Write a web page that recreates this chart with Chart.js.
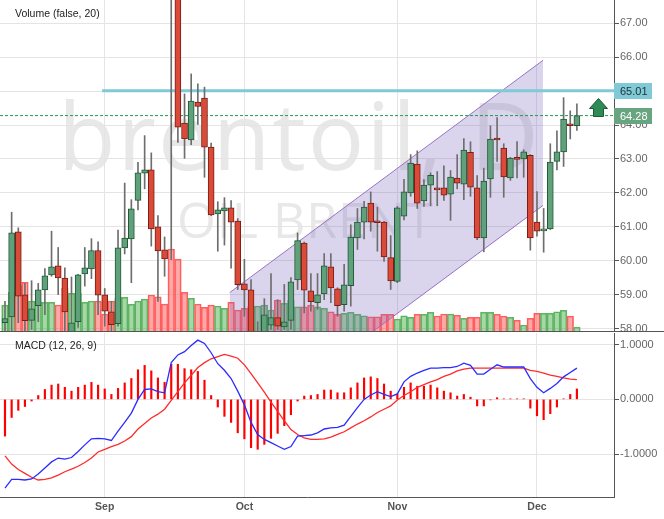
<!DOCTYPE html>
<html>
<head>
<meta charset="utf-8">
<script src="https://cdn.jsdelivr.net/npm/chart.js@4.4.0/dist/chart.umd.min.js"></script>
<style>
    html, body { margin: 0; padding: 0; background: #fff; }
    #wrap { width: 664px; height: 519px; }
    canvas { display: block; }
</style>
</head>
<body>
<div id="wrap">
    <canvas id="price-chart" width="664" height="332"></canvas>
    <canvas id="macd-chart" width="664" height="187"></canvas>
</div>
<script>
// --- DATA ---
// daily candles, 12 Aug .. 10 Dec (index = trading day)
const monthLabels = ['Sep', 'Oct', 'Nov', 'Dec'];
const monthStart = [15, 36, 59, 80];

const opens = [
    58.17, 58.34, 60.85, 58.99, 58.24, 58.67, 59.14, 59.58, 59.85, 59.49,
    57.88, 58.20, 59.61, 59.76, 60.30, 58.99, 58.49, 58.14, 60.38, 60.64,
    61.78, 62.58, 62.68, 61.00, 60.32, 71.00, 68.90, 64.06, 63.56, 64.68,
    64.80, 63.35, 61.38, 61.47, 61.56, 61.17, 59.32, 59.14, 57.70, 57.85,
    58.10, 58.32, 58.05, 58.24, 59.43, 60.52, 59.11, 58.76, 59.02, 59.82,
    59.17, 58.70, 59.26, 60.67, 61.14, 61.70, 61.16, 61.14, 60.09, 59.39,
    61.31, 62.00, 62.85, 61.76, 62.23, 62.12, 62.15, 61.96, 62.44, 62.26,
    63.20, 62.15, 60.67, 62.41, 63.59, 63.32, 62.44, 63.02, 63.00, 63.11,
    61.14, 60.88, 60.94, 62.93, 63.21, 64.00, 63.98
];
const highs = [
    58.80, 61.43, 60.97, 59.33, 59.41, 59.33, 59.77, 60.87, 60.39, 59.79,
    59.52, 59.60, 60.39, 60.65, 60.56, 59.18, 58.80, 60.90, 62.29, 61.80,
    62.90, 63.69, 63.18, 61.33, 60.70, 71.95, 69.30, 64.92, 65.51, 65.22,
    65.12, 63.47, 61.74, 61.86, 61.77, 61.24, 60.04, 59.44, 58.20, 58.88,
    59.62, 58.85, 59.30, 59.50, 60.82, 60.55, 59.62, 59.62, 60.21, 60.21,
    59.20, 59.89, 61.06, 61.54, 61.75, 62.03, 61.58, 61.16, 60.74, 61.60,
    62.40, 63.13, 63.24, 62.39, 62.59, 62.63, 62.80, 62.66, 63.13, 63.60,
    63.51, 62.51, 62.73, 63.98, 64.22, 63.45, 63.05, 63.51, 63.27, 63.13,
    62.04, 61.54, 63.45, 63.83, 64.81, 64.42, 64.63
];
const lows = [
    57.80, 57.80, 58.17, 57.80, 57.97, 58.20, 58.41, 59.54, 59.00, 57.80,
    57.80, 58.03, 59.25, 59.47, 58.41, 58.07, 57.80, 58.07, 60.20, 59.35,
    61.50, 62.12, 60.43, 58.80, 59.54, 60.03, 63.49, 63.02, 63.42, 64.02,
    62.46, 61.33, 60.28, 60.46, 59.78, 59.15, 58.36, 57.50, 57.30, 57.60,
    57.97, 57.97, 57.97, 57.97, 59.15, 58.46, 58.51, 58.56, 58.85, 58.76,
    58.36, 58.51, 58.66, 60.33, 60.64, 60.87, 60.28, 59.98, 59.15, 59.35,
    61.20, 61.90, 61.54, 61.60, 61.62, 61.62, 61.78, 61.19, 62.12, 61.80,
    61.90, 60.62, 60.26, 61.87, 62.93, 61.87, 62.37, 62.44, 62.46, 60.31,
    60.72, 60.25, 60.92, 62.68, 62.78, 63.59, 63.84
];
const closes = [
    58.29, 60.82, 58.95, 58.23, 58.58, 59.14, 59.55, 59.82, 59.49, 58.49,
    58.17, 59.58, 59.79, 60.30, 58.98, 58.51, 58.11, 60.38, 60.67, 61.53,
    62.59, 62.68, 60.94, 60.29, 60.05, 69.02, 63.94, 63.59, 64.71, 64.55,
    63.35, 61.35, 61.50, 61.56, 61.14, 59.29, 59.14, 57.70, 57.85, 58.40,
    58.32, 58.07, 58.20, 59.38, 60.59, 59.13, 58.79, 58.99, 59.85, 59.20,
    58.67, 59.29, 60.70, 61.14, 61.58, 61.14, 61.12, 60.11, 59.40, 61.56,
    62.03, 62.88, 61.70, 62.23, 62.52, 62.09, 61.93, 62.47, 62.29, 63.26,
    62.17, 60.67, 62.35, 63.59, 63.56, 62.47, 63.03, 62.99, 63.21, 60.67,
    60.87, 60.91, 62.91, 63.21, 64.18, 63.98, 64.28
];
const volumes = [
    104, 155, 181, 195, 120, 117, 115, 115, 104, 172,
    151, 151, 115, 120, 120, 68, 120, 131, 135, 107,
    120, 128, 144, 137, 108, 328, 288, 155, 131, 108,
    95, 104, 100, 91, 115, 84, 91, 100, 100, 104,
    84, 124, 111, 124, 97, 97, 104, 97, 91, 77,
    68, 71, 75, 67, 61, 57, 57, 67, 67, 48,
    61, 55, 67, 67, 75, 60, 68, 68, 63, 51,
    55, 55, 75, 75, 67, 60, 55, 43, 24, 51,
    71, 71, 71, 77, 83, 60, 16
];

const macdLine = [
    -1.62, -1.46, -1.46, -1.47, -1.45, -1.36, -1.25, -1.14, -1.07, -1.09,
    -1.06, -0.95, -0.83, -0.72, -0.71, -0.72, -0.75, -0.58, -0.42, -0.25,
    0.00, 0.18, 0.19, 0.14, 0.12, 0.67, 0.81, 0.87, 0.98, 1.08,
    1.02, 0.85, 0.65, 0.53, 0.38, 0.15, -0.10, -0.42, -0.64, -0.73,
    -0.79, -0.85, -0.91, -0.86, -0.67, -0.66, -0.65, -0.61, -0.54, -0.52,
    -0.51, -0.47, -0.31, -0.15, 0.00, 0.08, 0.14, 0.09, 0.05, 0.10,
    0.32, 0.42, 0.48, 0.53, 0.57, 0.57, 0.58, 0.58, 0.60, 0.66,
    0.62, 0.46, 0.46, 0.55, 0.63, 0.59, 0.59, 0.59, 0.59, 0.38,
    0.22, 0.12, 0.20, 0.29, 0.41, 0.49, 0.57
];
const signalLine = [
    -1.03, -1.18, -1.28, -1.35, -1.42, -1.47, -1.46, -1.43, -1.38, -1.32,
    -1.27, -1.22, -1.15, -1.07, -0.96, -0.91, -0.86, -0.82, -0.76, -0.68,
    -0.54, -0.44, -0.34, -0.27, -0.18, -0.02, 0.14, 0.30, 0.44, 0.58,
    0.67, 0.74, 0.78, 0.82, 0.79, 0.75, 0.63, 0.47, 0.30, 0.13,
    -0.05, -0.22, -0.39, -0.55, -0.64, -0.70, -0.73, -0.73, -0.72, -0.69,
    -0.64, -0.59, -0.52, -0.45, -0.39, -0.32, -0.24, -0.18, -0.12, -0.01,
    0.07, 0.14, 0.22, 0.27, 0.32, 0.36, 0.42, 0.46, 0.52, 0.55,
    0.57, 0.57, 0.57, 0.57, 0.57, 0.57, 0.57, 0.57, 0.57, 0.53,
    0.51, 0.48, 0.44, 0.42, 0.39, 0.37, 0.36
];
const histogram = [
    -0.67, -0.33, -0.20, -0.13, -0.03, 0.07, 0.18, 0.26, 0.28, 0.22,
    0.15, 0.22, 0.26, 0.31, 0.26, 0.19, 0.09, 0.20, 0.30, 0.38,
    0.54, 0.62, 0.52, 0.39, 0.31, 0.64, 0.64, 0.56, 0.54, 0.51,
    0.35, 0.07, -0.14, -0.31, -0.42, -0.61, -0.72, -0.88, -0.91, -0.82,
    -0.71, -0.62, -0.48, -0.28, -0.03, 0.06, 0.07, 0.09, 0.17, 0.17,
    0.12, 0.12, 0.21, 0.30, 0.39, 0.41, 0.38, 0.28, 0.15, 0.10,
    0.22, 0.30, 0.24, 0.24, 0.26, 0.21, 0.15, 0.12, 0.06, 0.09,
    0.04, -0.12, -0.12, -0.01, 0.03, 0.01, 0.01, 0.01, 0.01, -0.16,
    -0.30, -0.37, -0.26, -0.14, 0.01, 0.09, 0.19
];

const priceTicks = [58, 59, 60, 61, 62, 63, 64, 65, 66, 67];
const macdTicks = [-1, 0, 1];

// drawn levels and channel (x = trading-day index)
const resistance = 65.01;
const resistanceFrom = 14.6;
const lastPrice = 64.28;
const channelUpper = [{ x: 33.8, y: 59.06 }, { x: 80.9, y: 65.91 }];
const channelLower = [{ x: 33.8, y: 54.78 }, { x: 80.9, y: 61.63 }];
const arrowAt = { x: 89.1, y: 64.81 };

// --- CONFIG ---
const X_MIN = -0.75, X_MAX = 91.58;
const PRICE_MIN = 57.926, PRICE_MAX = 67.69;
const MACD_MIN = -1.78, MACD_MAX = 1.21;
const VOL_MAX = 1324;
const AXIS_W = 50;
const TICK_FONT = { family: '"Liberation Sans", Arial, sans-serif', size: 11 };

const isUp = i => closes[i] >= opens[i];

const monthAxis = (showLabels, height) => ({
    type: 'linear',
    min: X_MIN,
    max: X_MAX,
    offset: false,
    grid: { color: '#e4e4e4', drawTicks: false, offset: false },
    border: { color: '#555' },
    ticks: {
        display: showLabels,
        color: '#555',
        padding: 4,
        font: { family: TICK_FONT.family, size: 10.5, weight: 'bold' },
        callback: v => monthLabels[monthStart.indexOf(v)] || ''
    },
    afterBuildTicks: s => { s.ticks = monthStart.map(v => ({ value: v })); },
    afterFit: s => { s.height = height; s.paddingLeft = 0; s.paddingRight = 0; }
});

const valueAxis = (min, max, ticks, digits) => ({
    position: 'right',
    min, max,
    grid: { color: '#e4e4e4', tickColor: '#555', tickLength: 5 },
    border: { color: '#555' },
    ticks: { color: '#666', padding: 1, font: TICK_FONT, callback: v => v.toFixed(digits) },
    afterBuildTicks: s => { s.ticks = ticks.map(v => ({ value: v })); },
    afterFit: s => { s.width = AXIS_W; s.paddingTop = 0; s.paddingBottom = 0; }
});

const baseOptions = {
    responsive: false,
    devicePixelRatio: 1,
    animation: false,
    events: [],
    plugins: { legend: { display: false }, tooltip: { enabled: false } }
};

// --- PLUGINS ---
function drawTag(ctx, left, y, text, bg, fg) {
    ctx.fillStyle = bg;
    ctx.fillRect(left, Math.round(y) - 8, 38, 16);
    ctx.fillStyle = fg;
    ctx.font = '11px "Liberation Sans", Arial, sans-serif';
    ctx.textBaseline = 'middle';
    ctx.textAlign = 'left';
    ctx.fillText(text, left + 6, Math.round(y) + 0.5);
}

const priceOverlay = {
    id: 'priceOverlay',
    beforeDraw(chart) {
        const { ctx } = chart;
        ctx.save();
        ctx.fillStyle = '#e8e8e8';
        ctx.textBaseline = 'alphabetic';
        ctx.letterSpacing = '2px';
        ctx.font = '94px "Open Sans", sans-serif';
        ctx.fillText('brentoil, D', 58, 170);
        ctx.letterSpacing = '1px';
        ctx.font = '50px "Open Sans", sans-serif';
        ctx.fillText('OIL BRENT', 177, 238);
        ctx.restore();
    },
    afterDraw(chart) {
        const { ctx, chartArea, scales } = chart;
        ctx.save();
        ctx.fillStyle = '#222';
        ctx.font = '10.5px "Liberation Sans", Arial, sans-serif';
        ctx.textBaseline = 'middle';
        ctx.fillText('Volume (false, 20)', 15, 14);

        drawTag(ctx, chartArea.right, scales.y.getPixelForValue(resistance), resistance.toFixed(2), '#80c9d6', '#1f3035');
        drawTag(ctx, chartArea.right, scales.y.getPixelForValue(lastPrice), lastPrice.toFixed(2), '#67a47f', '#ffffff');

        // up arrow
        const ax = Math.round(scales.x.getPixelForValue(arrowAt.x)) + 0.5;
        const ay = Math.round(scales.y.getPixelForValue(arrowAt.y)) + 0.5;
        ctx.beginPath();
        ctx.moveTo(ax, ay);
        ctx.lineTo(ax + 9, ay + 10);
        ctx.lineTo(ax + 5, ay + 10);
        ctx.lineTo(ax + 5, ay + 18);
        ctx.lineTo(ax - 5, ay + 18);
        ctx.lineTo(ax - 5, ay + 10);
        ctx.lineTo(ax - 9, ay + 10);
        ctx.closePath();
        ctx.fillStyle = '#2f8b56';
        ctx.fill();
        ctx.strokeStyle = '#1c5a35';
        ctx.lineWidth = 1;
        ctx.stroke();

        // panel separator across the axis column
        ctx.strokeStyle = '#555';
        ctx.beginPath();
        ctx.moveTo(0, chartArea.bottom + 0.5);
        ctx.lineTo(chart.width, chartArea.bottom + 0.5);
        ctx.stroke();
        ctx.restore();
    }
};

const macdOverlay = {
    id: 'macdOverlay',
    afterDraw(chart) {
        const { ctx } = chart;
        ctx.save();
        ctx.fillStyle = '#222';
        ctx.font = '10.5px "Liberation Sans", Arial, sans-serif';
        ctx.textBaseline = 'middle';
        ctx.fillText('MACD (12, 26, 9)', 15, 14);
        ctx.restore();
    }
};

// --- CHARTS ---
function renderPriceChart() {
    const ctx = document.getElementById('price-chart').getContext('2d');
    const flat = v => [{ x: X_MIN, y: v }, { x: X_MAX, y: v }];

    return new Chart(ctx, {
        type: 'bar',
        data: {
            datasets: [
                {
                    label: 'Volume',
                    yAxisID: 'yv',
                    data: volumes.map((v, i) => ({ x: i, y: v })),
                    backgroundColor: c => isUp(c.dataIndex) ? 'rgba(76, 175, 80, 0.5)' : 'rgba(255, 82, 82, 0.5)',
                    borderColor: c => isUp(c.dataIndex) ? '#63b567' : '#ff6161',
                    borderWidth: 1,
                    categoryPercentage: 1,
                    barPercentage: 1,
                    grouped: false,
                    order: 10
                },
                {
                    type: 'line',
                    label: 'Channel top',
                    data: channelUpper,
                    borderColor: '#9c72c8',
                    borderWidth: 1,
                    backgroundColor: 'rgba(126, 100, 190, 0.28)',
                    fill: '+1',
                    pointRadius: 0,
                    order: 5
                },
                {
                    type: 'line',
                    label: 'Channel bottom',
                    data: channelLower,
                    borderColor: '#9c72c8',
                    borderWidth: 1,
                    pointRadius: 0,
                    fill: false,
                    order: 5
                },
                {
                    type: 'line',
                    label: 'Resistance',
                    data: [{ x: resistanceFrom, y: resistance }, { x: X_MAX, y: resistance }],
                    borderColor: '#80c9d6',
                    borderWidth: 3,
                    pointRadius: 0,
                    order: 4
                },
                {
                    type: 'line',
                    label: 'Last',
                    data: flat(lastPrice),
                    borderColor: '#1f9a4c',
                    borderWidth: 1,
                    borderDash: [3, 2],
                    pointRadius: 0,
                    order: 4
                },
                {
                    label: 'Wick',
                    data: lows.map((l, i) => ({ x: i, y: [l, highs[i]] })),
                    backgroundColor: '#6e6e6e',
                    barThickness: 1,
                    grouped: false,
                    order: 2
                },
                {
                    label: 'Body',
                    data: opens.map((o, i) => ({ x: i, y: [o, closes[i]] })),
                    backgroundColor: c => isUp(c.dataIndex) ? '#60a07b' : '#d94b38',
                    borderColor: c => isUp(c.dataIndex) ? '#1f5a36' : '#7a1c12',
                    borderWidth: 1,
                    borderSkipped: false,
                    barThickness: 6,
                    minBarLength: 2,
                    grouped: false,
                    order: 1
                }
            ]
        },
        options: {
            ...baseOptions,
            layout: { padding: { bottom: 1 } },
            scales: {
                x: monthAxis(false, 0),
                y: valueAxis(PRICE_MIN, PRICE_MAX, priceTicks, 2),
                yv: { axis: 'y', position: 'left', display: false, min: 0, max: VOL_MAX }
            }
        },
        plugins: [priceOverlay]
    });
}

function renderMacdChart() {
    const ctx = document.getElementById('macd-chart').getContext('2d');
    const pts = arr => arr.map((v, i) => ({ x: i, y: v }));

    return new Chart(ctx, {
        type: 'bar',
        data: {
            datasets: [
                {
                    label: 'Histogram',
                    data: pts(histogram),
                    backgroundColor: '#ff0000',
                    barThickness: 1.5,
                    grouped: false,
                    order: 3
                },
                {
                    type: 'line',
                    label: 'Signal',
                    data: pts(signalLine),
                    borderColor: '#ff2b2b',
                    borderWidth: 1.3,
                    pointRadius: 0,
                    order: 2
                },
                {
                    type: 'line',
                    label: 'MACD',
                    data: pts(macdLine),
                    borderColor: '#2b2bff',
                    borderWidth: 1.3,
                    pointRadius: 0,
                    order: 1
                }
            ]
        },
        options: {
            ...baseOptions,
            layout: { padding: { top: 1 } },
            scales: {
                x: monthAxis(true, 22),
                y: valueAxis(MACD_MIN, MACD_MAX, macdTicks, 4)
            }
        },
        plugins: [macdOverlay]
    });
}

renderPriceChart();
renderMacdChart();
</script>
</body>
</html>
